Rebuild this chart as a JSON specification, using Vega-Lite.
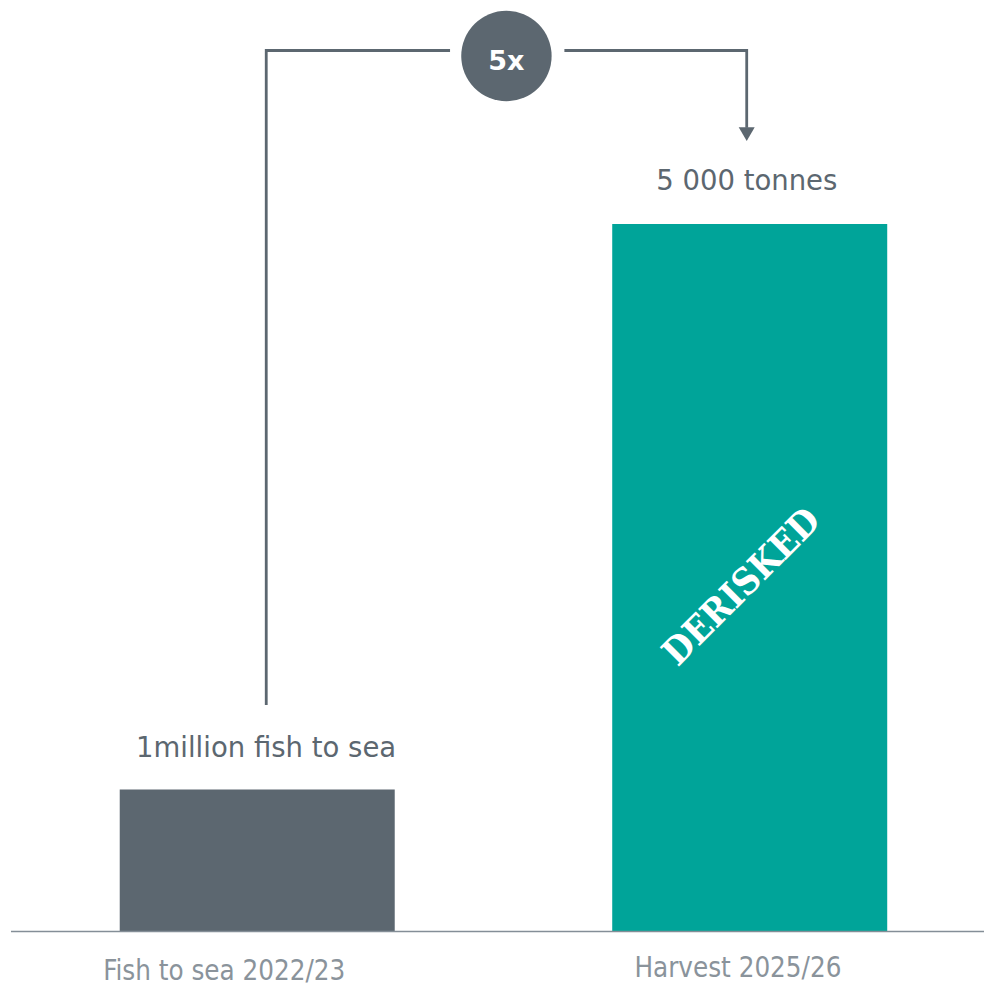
{
  "$schema": "https://vega.github.io/schema/vega-lite/v6.json",
  "width": 985,
  "height": 987,
  "padding": 0,
  "autosize": {"type": "fit", "contains": "padding"},
  "background": "white",
  "config": {"view": {"stroke": null}},
  "layer": [
    {
      "data": {"values": [
        {"stage": "Fish to sea 2022/23", "pos": 1, "val": 1},
        {"stage": "Harvest 2025/26", "pos": 2, "val": 5}
      ]},
      "mark": {"type": "bar", "width": 275, "orient": "vertical"},
      "encoding": {
        "x": {"field": "pos", "type": "quantitative", "scale": {"domain": [0.4777, 2.4757], "nice": false, "zero": false, "padding": 0}, "axis": null},
        "y": {"field": "val", "type": "quantitative", "scale": {"domain": [-0.396, 6.584], "nice": false, "zero": false, "padding": 0}, "axis": null},
        "y2": {"datum": 0},
        "color": {"field": "stage", "type": "nominal", "scale": {"domain": ["Fish to sea 2022/23", "Harvest 2025/26"], "range": ["#5c6770", "#00a499"]}, "legend": null}
      }
    },
    {
      "data": {"values": [{"pos": 0.5, "pos2": 2.4757, "val": -0.004}]},
      "mark": {"type": "rule", "color": "#848e97", "strokeWidth": 1.6},
      "encoding": {
        "x": {"field": "pos", "type": "quantitative"},
        "x2": {"field": "pos2"},
        "y": {"field": "val", "type": "quantitative"}
      }
    },
    {
      "data": {"values": [
        {"path": "a", "ord": 0, "pos": 1.0183, "val": 1.598},
        {"path": "a", "ord": 1, "pos": 1.0183, "val": 6.227},
        {"path": "a", "ord": 2, "pos": 1.3915, "val": 6.227},
        {"path": "b", "ord": 0, "pos": 1.6237, "val": 6.227},
        {"path": "b", "ord": 1, "pos": 1.9939, "val": 6.227},
        {"path": "b", "ord": 2, "pos": 1.9939, "val": 5.68}
      ]},
      "mark": {"type": "line", "color": "#5c6770", "strokeWidth": 2.8, "strokeCap": "butt", "strokeJoin": "miter"},
      "encoding": {
        "x": {"field": "pos", "type": "quantitative"},
        "y": {"field": "val", "type": "quantitative"},
        "detail": {"field": "path"},
        "order": {"field": "ord"}
      }
    },
    {
      "data": {"values": [{"pos": 1.9939, "val": 5.635}]},
      "mark": {"type": "point", "shape": "triangle-down", "filled": true, "size": 256, "color": "#5c6770", "opacity": 1},
      "encoding": {
        "x": {"field": "pos", "type": "quantitative"},
        "y": {"field": "val", "type": "quantitative"}
      }
    },
    {
      "data": {"values": [{"pos": 1.506, "val": 6.188}]},
      "mark": {"type": "point", "shape": "circle", "filled": true, "size": 8171, "color": "#5c6770", "opacity": 1},
      "encoding": {
        "x": {"field": "pos", "type": "quantitative"},
        "y": {"field": "val", "type": "quantitative"}
      }
    },
    {
      "data": {"values": [{"pos": 1.506, "val": 6.089, "txt": "5x"}]},
      "mark": {"type": "text", "font": "DejaVu Sans", "fontWeight": "bold", "fontSize": 27, "color": "white", "align": "center", "baseline": "alphabetic"},
      "encoding": {
        "x": {"field": "pos", "type": "quantitative"},
        "y": {"field": "val", "type": "quantitative"},
        "text": {"field": "txt"}
      }
    },
    {
      "data": {"values": [
        {"pos": 1.018, "val": 1.2306, "txt": "1million fish to sea"},
        {"pos": 1.994, "val": 5.24, "txt": "5 000 tonnes"}
      ]},
      "mark": {"type": "text", "font": "DejaVu Sans", "fontSize": 27.5, "color": "#5c6770", "align": "center", "baseline": "alphabetic"},
      "encoding": {
        "x": {"field": "pos", "type": "quantitative"},
        "y": {"field": "val", "type": "quantitative"},
        "text": {"field": "txt"}
      }
    },
    {
      "data": {"values": [
        {"pos": 0.933, "val": -0.35, "txt": "Fish to sea 2022/23"},
        {"pos": 1.976, "val": -0.325, "txt": "Harvest 2025/26"}
      ]},
      "mark": {"type": "text", "font": "DejaVu Sans Condensed", "fontSize": 27.5, "color": "#8a939b", "align": "center", "baseline": "alphabetic"},
      "encoding": {
        "x": {"field": "pos", "type": "quantitative"},
        "y": {"field": "val", "type": "quantitative"},
        "text": {"field": "txt"}
      }
    },
    {
      "data": {"values": [{"pos": 1.985, "val": 2.43, "txt": "DERISKED"}]},
      "mark": {"type": "text", "font": "DejaVu Serif Condensed", "fontWeight": "bold", "fontSize": 37, "color": "white", "align": "center", "baseline": "middle", "angle": 315},
      "encoding": {
        "x": {"field": "pos", "type": "quantitative"},
        "y": {"field": "val", "type": "quantitative"},
        "text": {"field": "txt"}
      }
    }
  ]
}
